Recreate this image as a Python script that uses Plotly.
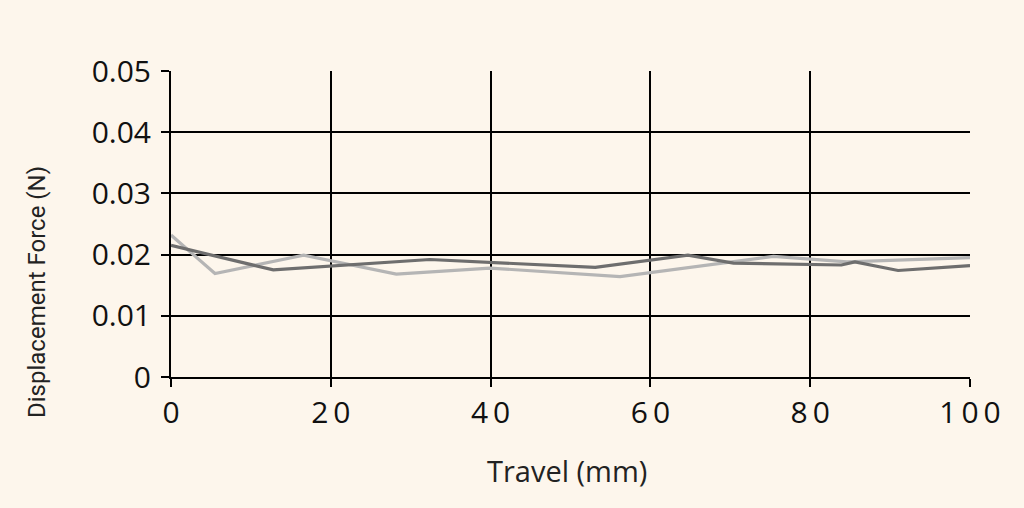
import plotly.graph_objects as go

dark_x = [0, 12.8, 32.4, 53.1, 64.7, 70.4, 83.9, 85.6, 91.0, 100]
dark_y = [0.0215, 0.0175, 0.0192, 0.0179, 0.0199, 0.0186, 0.0183, 0.0188, 0.0174, 0.0182]
light_x = [0, 5.5, 16.6, 28.2, 39.9, 56.2, 75.4, 84.6, 100]
light_y = [0.0232, 0.0169, 0.0199, 0.0168, 0.0178, 0.0164, 0.0197, 0.0188, 0.0195]

x_ticks = [0, 20, 40, 60, 80, 100]
y_ticks = [0, 0.01, 0.02, 0.03, 0.04, 0.05]
y_labels = ["0", "0.01", "0.02", "0.03", "0.04", "0.05"]

bg = "#fdf6ec"
fig = go.Figure()
fig.add_trace(go.Scatter(x=light_x, y=light_y, mode="lines",
                         line=dict(color="#b5b5b5", width=3.2), showlegend=False))
fig.add_trace(go.Scatter(x=dark_x, y=dark_y, mode="lines",
                         line=dict(color="#6e6e6e", width=3.2), showlegend=False))

fig.update_layout(
    width=1024, height=508,
    paper_bgcolor=bg, plot_bgcolor=bg,
    margin=dict(l=171, r=54, t=71, b=131),
    font=dict(family="Open Sans", color="#111111"),
)
fig.update_xaxes(
    range=[0, 100], tickvals=x_ticks,
    ticktext=["\u2009".join(str(v)) for v in x_ticks],
    showgrid=True, gridcolor="#000000", gridwidth=2,
    showline=True, linecolor="#000000", linewidth=2,
    ticks="outside", ticklen=8, tickwidth=2, tickcolor="#000000",
    tickfont=dict(size=30, color="#111111"),
    zeroline=False,
)
fig.update_yaxes(
    range=[0, 0.05], tickvals=y_ticks, ticktext=y_labels,
    showgrid=True, gridcolor="#000000", gridwidth=2,
    showline=True, linecolor="#000000", linewidth=2,
    ticks="outside", ticklen=8, tickwidth=2, tickcolor="#000000",
    tickfont=dict(size=30, color="#111111"),
    ticklabelstandoff=4,
    zeroline=False,
)
fig.add_annotation(text="Travel (mm)", xref="paper", yref="paper",
                   x=(567 - 171) / 799, y=(377 - 470) / 306,
                   xanchor="center", yanchor="middle", showarrow=False,
                   font=dict(size=29, color="#222222"))
fig.add_annotation(text="Displacement Force (N)", xref="paper", yref="paper",
                   x=(37 - 171) / 799, y=(377 - 292) / 306, textangle=-90,
                   xanchor="center", yanchor="middle", showarrow=False,
                   font=dict(family="Roboto", size=24, color="#222222"))
fig.write_html("out.html", config={"displayModeBar": False},
               post_script="document.body.style.margin='0';document.body.style.background='#fdf6ec';")
